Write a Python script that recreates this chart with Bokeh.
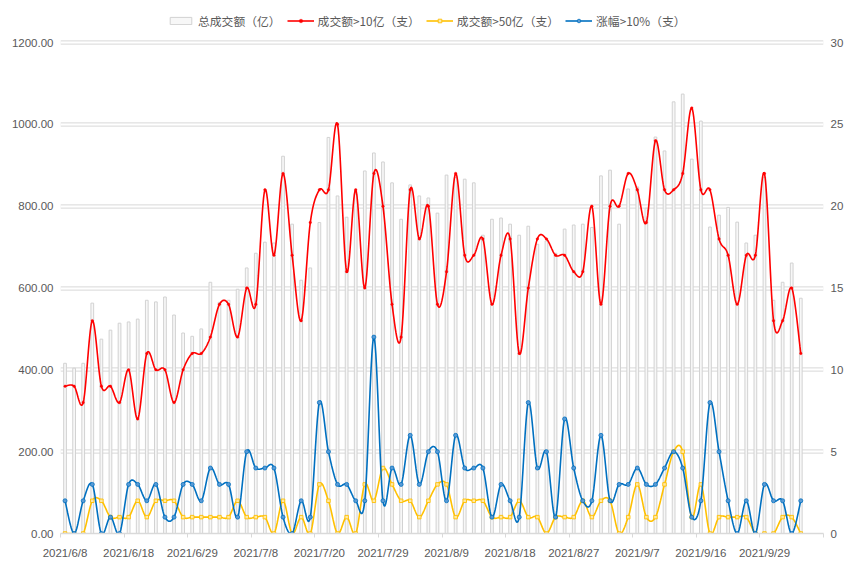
import numpy as np
from bokeh.plotting import figure
from bokeh.models import (Range1d, LinearAxis, FixedTicker, PrintfTickFormatter, Grid,
                          Legend, LegendItem)
from bokeh.embed import file_html
from bokeh.resources import INLINE

dates = ["2021/6/8", "2021/6/9", "2021/6/10", "2021/6/11", "2021/6/15", "2021/6/16", "2021/6/17", "2021/6/18",
         "2021/6/21", "2021/6/22", "2021/6/23", "2021/6/24", "2021/6/25", "2021/6/28", "2021/6/29",
         "2021/6/30", "2021/7/1", "2021/7/2", "2021/7/5", "2021/7/6", "2021/7/7", "2021/7/8",
         "2021/7/9", "2021/7/12", "2021/7/13", "2021/7/14", "2021/7/15", "2021/7/16", "2021/7/20",
         "2021/7/21", "2021/7/22", "2021/7/23", "2021/7/26", "2021/7/27", "2021/7/28", "2021/7/29",
         "2021/7/30", "2021/8/2", "2021/8/3", "2021/8/4", "2021/8/5", "2021/8/6", "2021/8/9",
         "2021/8/10", "2021/8/11", "2021/8/12", "2021/8/13", "2021/8/16", "2021/8/17", "2021/8/18",
         "2021/8/19", "2021/8/20", "2021/8/23", "2021/8/24", "2021/8/25", "2021/8/26", "2021/8/27",
         "2021/8/30", "2021/8/31", "2021/9/1", "2021/9/2", "2021/9/3", "2021/9/6", "2021/9/7",
         "2021/9/8", "2021/9/9", "2021/9/10", "2021/9/13", "2021/9/14", "2021/9/15", "2021/9/16",
         "2021/9/17", "2021/9/22", "2021/9/23", "2021/9/24", "2021/9/27", "2021/9/28", "2021/9/29",
         "2021/9/30", "2021/10/8", "2021/10/11", "2021/10/12"]

# 总成交额（亿）
turnover = [416, 404, 416, 563, 475, 497, 514, 517, 524, 570, 566, 578, 534, 490, 482, 500, 614, 565, 570, 597, 649,
            685, 712, 710, 922, 756, 619, 649, 760, 968, 825, 773, 830, 886, 930, 908, 857, 768, 852, 825, 820, 783,
            876, 870, 866, 857, 729, 768, 771, 756, 729, 751, 707, 715, 685, 744, 754, 756, 748, 874, 888, 756, 842,
            847, 795, 969, 935, 1055, 1074, 915, 1008, 749, 778, 797, 761, 710, 729, 870, 570, 614, 661, 575]
# 成交额>10亿（支）
over10 = [9, 9, 8, 13, 9, 9, 8, 10, 7, 11, 10, 10, 8, 10, 11, 11, 12, 14, 14, 12, 15,
          14, 21, 17, 22, 17, 13, 19, 21, 21, 25, 16, 21, 15, 22, 20, 14, 12, 21, 18, 20, 14,
          16, 22, 17, 17, 18, 14, 17, 18, 11, 15, 18, 18, 17, 17, 16, 16, 20, 14, 20, 20, 22,
          21, 19, 24, 21, 21, 22, 26, 21, 21, 18, 17, 14, 17, 17, 22, 13, 13, 15, 11]
# 成交额>50亿（支）
over50 = [0, 0, 0, 2, 2, 1, 1, 1, 2, 1, 2, 2, 2, 1, 1, 1, 1, 1, 1, 2, 1,
          1, 1, 0, 2, 0, 1, 0, 3, 2, 0, 1, 0, 3, 2, 4, 3, 2, 2, 1, 2, 3,
          3, 1, 2, 2, 2, 1, 1, 1, 2, 1, 1, 0, 1, 1, 1, 2, 1, 2, 2, 0, 1,
          3, 1, 1, 3, 5, 5, 1, 3, 0, 1, 1, 1, 1, 0, 0, 0, 1, 1, 0]
# 涨幅>10%（支）
rise10 = [2, 0, 2, 3, 0, 1, 0, 3, 3, 2, 3, 1, 1, 3, 3, 2, 4, 3, 3, 1, 5,
          4, 4, 4, 1, 0, 2, 1, 8, 5, 3, 3, 2, 2, 12, 2, 4, 3, 6, 3, 5, 5,
          2, 6, 4, 4, 4, 1, 3, 2, 1, 8, 4, 5, 1, 7, 4, 2, 2, 6, 2, 3, 3,
          4, 3, 3, 4, 5, 4, 1, 2, 8, 5, 2, 0, 2, 0, 3, 2, 2, 0, 2]

left_ticks = [0, 200, 400, 600, 800, 1000, 1200]
right_ticks = [0, 5, 10, 15, 20, 25, 30]

xs = list(range(len(dates)))


def smooth(xv, yv, n=14):
    xv = np.asarray(xv, float)
    yv = np.asarray(yv, float)
    N = len(xv)
    ox, oy = [xv[0]], [yv[0]]
    t = np.linspace(0, 1, n + 1)[1:]
    for i in range(N - 1):
        i0, i3 = max(i - 1, 0), min(i + 2, N - 1)
        p1x, p1y, p2x, p2y = xv[i], yv[i], xv[i + 1], yv[i + 1]
        c1x = p1x + (p2x - xv[i0]) / 6.0
        c1y = p1y + (p2y - yv[i0]) / 6.0
        c2x = p2x - (xv[i3] - p1x) / 6.0
        c2y = p2y - (yv[i3] - p1y) / 6.0
        a, b, c, d = (1 - t) ** 3, 3 * (1 - t) ** 2 * t, 3 * (1 - t) * t ** 2, t ** 3
        ox.extend(a * p1x + b * c1x + c * c2x + d * p2x)
        oy.extend(a * p1y + b * c1y + c * c2y + d * p2y)
    return ox, oy


FONT = "Liberation Sans"
TXT = "#595959"

# frame spans canvas y 2..533; value 1200 sits at canvas y 42
TOP_L = 1200 * 531 / 491
TOP_R = 30 * 531 / 491

p = figure(width=850, height=574, output_backend="svg", toolbar_location=None,
           x_range=Range1d(-0.5, 83.5), y_range=Range1d(0, TOP_L),
           min_border_left=60, min_border_right=27, min_border_top=2, min_border_bottom=41)
p.extra_y_ranges = {"right": Range1d(0, TOP_R)}
p.outline_line_color = None
p.background_fill_color = "white"
p.border_fill_color = "white"
p.xgrid.visible = False
p.ygrid.visible = False

# double grid lines
p.add_layout(Grid(dimension=1, ticker=FixedTicker(ticks=left_ticks[1:]), grid_line_color="#e0e0e0",
                  grid_line_width=4.6))
p.add_layout(Grid(dimension=1, ticker=FixedTicker(ticks=left_ticks[1:]), grid_line_color="white",
                  grid_line_width=2.2))

# x axis
xa = p.xaxis[0]
xa.ticker = FixedTicker(ticks=list(range(0, len(dates), 7)),
                        minor_ticks=[k * 7 - 0.5 for k in range(13)])
xa.major_label_overrides = {i: dates[i] for i in range(0, len(dates), 7)}
xa.axis_line_color = "#d9d9d9"
xa.axis_line_width = 1.5
xa.major_tick_line_color = None
xa.major_tick_out = 0
xa.major_tick_in = 0
xa.minor_tick_line_color = "#d9d9d9"
xa.minor_tick_out = 4
xa.minor_tick_in = 0
xa.major_label_standoff = 9
xa.major_label_text_font = FONT
xa.major_label_text_font_size = "11.5px"
xa.major_label_text_color = TXT

# left axis
ya = p.yaxis[0]
ya.ticker = FixedTicker(ticks=left_ticks)
ya.formatter = PrintfTickFormatter(format="%.2f")
ya.axis_line_color = None
ya.major_tick_line_color = None
ya.minor_tick_line_color = None
ya.major_tick_out = 0
ya.major_tick_in = 0
ya.major_label_standoff = 7
ya.major_label_text_font = FONT
ya.major_label_text_font_size = "11.5px"
ya.major_label_text_color = TXT

# right axis
ra = LinearAxis(y_range_name="right", ticker=FixedTicker(ticks=right_ticks))
ra.axis_line_color = None
ra.major_tick_line_color = None
ra.minor_tick_line_color = None
ra.major_tick_out = 0
ra.major_tick_in = 0
ra.major_label_standoff = 7
ra.major_label_text_font = FONT
ra.major_label_text_font_size = "11.5px"
ra.major_label_text_color = TXT
p.add_layout(ra, "right")

bars = p.vbar(x=xs, top=turnover, width=0.3, bottom=0, fill_color="#f7f7f7",
              line_color="#d2d2d2", line_width=1)

RED, YEL, BLU = "#ff0000", "#ffc000", "#0070c0"

sx, sy = smooth(xs, over10)
r_line = p.line(sx, sy, y_range_name="right", line_color=RED, line_width=1.6)
r_pts = p.scatter(xs, over10, y_range_name="right", marker="circle", size=2.5,
                  fill_color=RED, line_color=RED, line_width=0.4)

sx, sy = smooth(xs, over50)
y_line = p.line(sx, sy, y_range_name="right", line_color=YEL, line_width=1.6)
y_pts = p.scatter(xs, over50, y_range_name="right", marker="square", size=3.5,
                  fill_color="#ffe9a8", line_color=YEL, line_width=0.9)

sx, sy = smooth(xs, rise10)
b_line = p.line(sx, sy, y_range_name="right", line_color=BLU, line_width=1.6)
b_pts = p.scatter(xs, rise10, y_range_name="right", marker="circle", size=4,
                  fill_color="#5b9bd5", line_color=BLU, line_width=0.8)

legend = Legend(items=[
    LegendItem(label="总成交额（亿）", renderers=[bars]),
    LegendItem(label="成交额>10亿（支）", renderers=[r_line, r_pts]),
    LegendItem(label="成交额>50亿（支）", renderers=[y_line, y_pts]),
    LegendItem(label="涨幅>10%（支）", renderers=[b_line, b_pts]),
], orientation="horizontal", location=(107, 504))
legend.padding = 0
legend.margin = 0
legend.spacing = 6
legend.label_standoff = 4
legend.glyph_width = 27
legend.glyph_height = 9
legend.label_height = 18
legend.label_text_font = "Noto Sans CJK SC"
legend.label_text_font_size = "11.8px"
legend.label_text_color = TXT
legend.border_line_color = None
legend.background_fill_alpha = 0
p.add_layout(legend)

open("out.html", "w").write(file_html(p, INLINE))
